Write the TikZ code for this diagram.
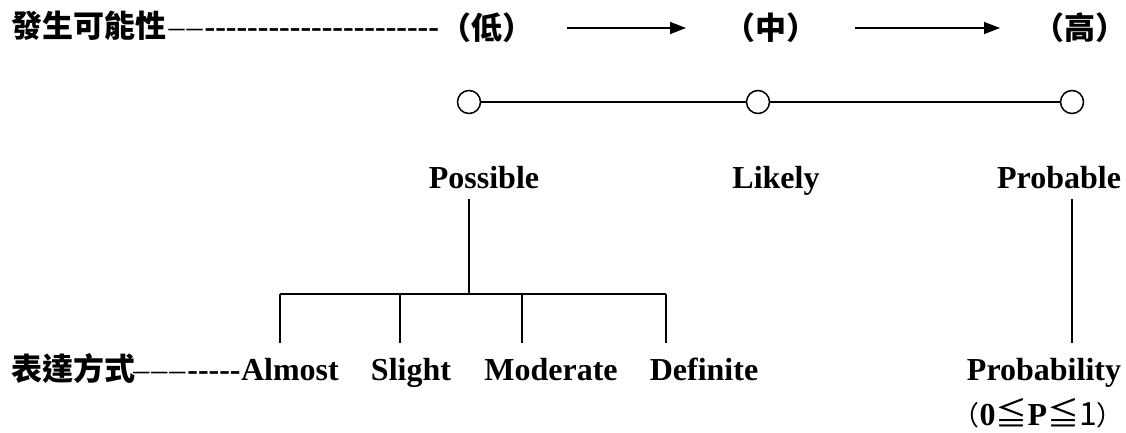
\documentclass[tikz,border=0pt]{standalone}
\usepackage{fontspec}
\newfontfamily\tnr{Liberation Serif}
\newfontfamily\cjk{Noto Sans CJK TC}
\usetikzlibrary{arrows.meta}
\tikzset{
  en/.style={font=\tnr\bfseries\fontsize{32}{32}\selectfont, inner sep=0pt},
  zh/.style={font=\cjk\bfseries\fontsize{31}{31}\selectfont, inner sep=0pt},
  dot/.style={circle, draw, line width=1.5pt, minimum size=23pt, inner sep=0pt},
  tie/.style={line width=1.4pt},
  go/.style={line width=1.5pt, -{Triangle[length=16pt,width=12pt]}}
}
\newcommand\thin{{\mdseries\kern2pt–}}
\begin{document}
\begin{tikzpicture}[x=1pt,y=-1pt]
\useasboundingbox (0,0) rectangle (1126,432);
% top row
\node (occ) at (11,37) [zh, anchor=base west] {發生可能性};
\node (occdash) at (occ.base east) [en, anchor=base west] {\thin\thin\kern2pt-{}-{}-{}-{}-{}-{}-{}-{}-{}-{}-{}-{}-{}-{}-{}-{}-{}-{}-{}-{}-{}-};
\node (lo) at (487,28) [zh] {（低）};
\node (mid) at (771,28) [zh] {（中）};
\node (hi) at (1080,28) [zh] {（高）};
\coordinate (a1) at (567,28);
\coordinate (a2) at (686,28);
\coordinate (b1) at (855,28);
\coordinate (b2) at (1000,28);
\draw[go] (a1) -- (a2);
\draw[go] (b1) -- (b2);
% scale
\node (c1) at (469,102) [dot] {};
\node (c2) at (758,102) [dot] {};
\node (c3) at (1072,102) [dot] {};
\draw[tie] (c1) -- (c2) -- (c3);
% words
\node (poss) at (484,188) [en, anchor=base] {Possible};
\node (like) at (776,188) [en, anchor=base] {Likely};
\node (prob) at (1059,188) [en, anchor=base] {Probable};
\coordinate (fork) at (469,294);
\coordinate (top) at (469,199);
\draw[tie] (top) -- (fork);
\coordinate (d1) at (280,294);
\coordinate (d2) at (400,294);
\coordinate (d3) at (522,294);
\coordinate (d4) at (666,294);
\coordinate (e1) at (280,343);
\coordinate (e2) at (400,343);
\coordinate (e3) at (522,343);
\coordinate (e4) at (666,343);
\draw[tie] (d1) -- (d4);
\draw[tie] (d1) -- (e1);
\draw[tie] (d2) -- (e2);
\draw[tie] (d3) -- (e3);
\draw[tie] (d4) -- (e4);
% bottom row
\node (way) at (11,380) [zh, anchor=base west] {表達方式};
\node (almost) at (339,380) [en, anchor=base east] {Almost};
\node (waydash) at (almost.base west) [en, anchor=base east] {\thin\thin\thin\kern2pt-{}-{}-{}-{}-};
\node (slight) at (411,380) [en, anchor=base] {Slight};
\node (moder) at (551,380) [en, anchor=base] {Moderate};
\node (defin) at (704,380) [en, anchor=base] {Definite};
\node (pty) at (1044,380) [en, anchor=base] {Probability};
\node (range) at (1124,425) [en, anchor=base east] {{\cjk\mdseries\fontsize{27}{27}\selectfont （}0{\cjk\mdseries ≦}P{\cjk\mdseries ≦1\fontsize{27}{27}\selectfont ）}};
\coordinate (p1) at (1072,199);
\coordinate (p2) at (1072,343);
\draw[tie] (p1) -- (p2);
\end{tikzpicture}
\end{document}
